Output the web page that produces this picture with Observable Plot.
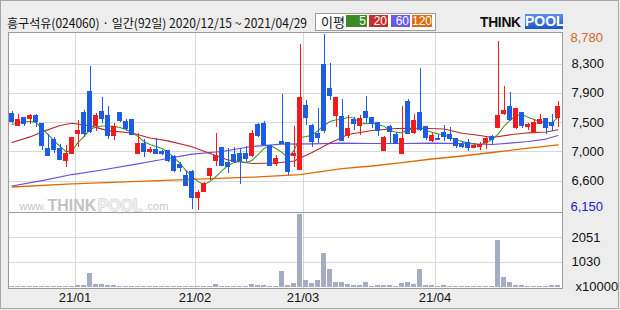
<!DOCTYPE html>
<html><head><meta charset="utf-8">
<script src="https://cdn.jsdelivr.net/npm/d3@7"></script>
<script src="https://cdn.jsdelivr.net/npm/@observablehq/plot@0.6"></script>
<style>
html,body{margin:0;padding:0;background:#ededed;}
#wrap{position:relative;width:620px;height:310px;overflow:hidden;background:#ededed;}
#border{position:absolute;left:0;top:0;width:619px;height:309px;box-sizing:border-box;border:1px solid #a6a6a6;pointer-events:none;}
.abs{position:absolute;}
#title{left:7px;top:14px;font-family:"Noto Sans CJK KR",sans-serif;font-size:12.5px;line-height:17px;white-space:nowrap;color:#111;transform-origin:left top;}
#legend{left:315px;top:13px;width:121px;height:18px;box-sizing:border-box;border:1px solid #9c9c9c;background:#fff;}
#legendLabel{left:321px;top:13px;font-family:"Noto Sans CJK KR",sans-serif;font-size:13px;line-height:18px;color:#111;}
.lg{top:15px;height:12px;color:#fff;font-family:"Liberation Sans",Arial,sans-serif;font-size:12px;line-height:12px;text-align:right;box-sizing:border-box;padding-right:1px;}
#logoThink{left:480px;top:14px;font-family:"Liberation Sans",Arial,sans-serif;font-weight:bold;font-size:15px;line-height:15px;color:#111;letter-spacing:-0.3px;transform-origin:left top;transform:scaleX(0.92);}
#logoPool{left:525px;top:14px;width:38px;height:15px;background:linear-gradient(#5b8fe8,#1f55c4);color:#fff;font-family:"Liberation Sans",Arial,sans-serif;font-weight:bold;font-size:14px;line-height:15px;text-align:center;}
svg{position:absolute;left:0;}
</style></head>
<body>
<div id="wrap">
  <div id="title" class="abs"></div>
  <div id="legend" class="abs"></div>
  <div id="legendLabel" class="abs"></div>
  <div id="logoThink" class="abs">THINK</div>
  <div id="logoPool" class="abs">POOL</div>
  <div id="border"></div>
</div>
<script>
// ---------------- data ----------------
const titleText = "흥구석유(024060) · 일간(92일) 2020/12/15 ~ 2021/04/29";
const legendLabel = "이평";
const maPeriods = ["5", "20", "60", "120"];

const opens  = [7585,7410,7525,7515,7555,7445,7060,7200,7060,6895,6990,7290,7605,7920,7415,7620,7555,7260,7605,7465,
                7495,6995,7135,7020,7055,7015,7030,6945,6830,6670,6715,6330,6420,6660,6895,7085,6850,6970,6995,6990,
                6970,7420,7445,7115,6850,7170,7150,6960,6750,7705,7405,7295,8320,7960,7570,7540,7270,7495,7410,7620,
                7530,7460,7045,7395,7270,6995,7770,7305,7610,7390,7195,7215,7300,7280,7210,7130,7160,7080,7100,7160,
                7240,7390,7600,7690,7380,7610,7400,7310,7440,7510,7455,7530];
const highs  = [7635,7585,7545,7585,7585,7450,7290,7240,7130,7120,7230,7495,7645,8305,7600,7845,7700,7455,7620,7515,
                7500,7305,7205,7090,7220,7045,7030,6970,6870,6745,6745,6445,6560,6780,7305,7085,7075,7085,7070,7100,
                7340,7455,7480,7125,6970,7885,7170,7405,8630,7790,7430,7670,8780,8345,7830,7810,7570,7545,7570,7855,
                7530,7460,7260,7420,7320,7710,7810,7585,8270,7390,7295,7290,7420,7390,7230,7180,7210,7145,7160,7245,
                7270,8680,8005,7915,7660,7610,7455,7510,7585,7530,7585,7780];
const lows   = [7445,7410,7410,7440,7390,7045,6960,6995,6895,6795,6990,7095,7245,7305,7335,7450,7210,7200,7465,7330,
                7270,6995,6940,7000,6990,6970,6865,6710,6710,6510,6165,6150,6420,6590,6805,6820,6695,6845,6540,6870,
                6945,7245,7110,6805,6805,7140,6675,6795,6745,7415,7095,7145,7305,7795,7395,7195,7220,7345,7270,7445,
                7370,7260,7030,7145,7145,6995,7295,7280,7330,7195,7160,7200,7180,7180,7080,7080,7035,7080,7045,7060,
                7130,7390,7570,7480,7360,7380,7345,7310,7440,7290,7335,7395];
const closes = [7470,7495,7445,7555,7480,7110,6960,7050,6910,6985,7230,7335,7295,7320,7555,7515,7260,7390,7490,7370,
                7280,7135,7020,7050,6995,6995,6890,6745,6780,6510,6330,6405,6545,6770,6965,6820,6805,6870,6895,6920,
                7295,7270,7135,6820,6920,7145,6720,6990,7825,7535,7170,7230,7345,7870,7830,7195,7360,7440,7520,7530,
                7440,7345,7230,7330,7145,7210,7295,7485,7360,7230,7260,7205,7250,7220,7110,7100,7090,7110,7130,7210,
                7200,7555,7640,7510,7660,7410,7430,7450,7495,7380,7410,7690];
// volume, unit x10000 shares
const volumes = [40,35,40,35,40,45,40,35,40,40,45,80,80,580,125,125,80,80,40,35,
                 40,40,35,40,35,40,40,40,35,40,45,40,40,40,125,40,40,45,40,40,
                 125,80,80,40,40,660,70,165,3010,275,165,275,1410,745,180,180,130,80,80,210,
                 40,80,80,80,40,165,205,125,745,80,80,40,80,40,40,40,40,40,40,40,
                 40,1930,420,215,90,90,40,40,40,40,80,80];

// moving averages
const ma5 = [7436,7462,7481,7481,7466,7376,7286,7196,7106,7031,7039,7166,7256,7361,7398,7413,7413,7406,7391,7361,
             7316,7256,7181,7136,7106,7076,7016,6941,6851,6746,6656,6581,6536,6581,6656,6746,6821,6866,6881,6866,
             6896,6986,7076,7121,7076,7016,6941,7046,7241,7256,7271,7346,7421,7481,7506,7511,7545,7530,7461,7446,
             7461,7431,7410,7346,7320,7311,7361,7361,7395,7346,7320,7296,7281,7245,7211,7181,7161,7147,7132,7161,
             7211,7290,7410,7496,7571,7586,7545,7511,7481,7461,7461,7545];
const ma20Idx = [0,3,5,8,10,13,16,20,23,26,30,33,36,40,44,47,50,53,56,60,64,68,72,75,78,80,83,86,89,91];
const ma20Val = [7166,7250,7325,7420,7455,7415,7344,7308,7233,7190,7102,7000,6904,6851,6859,6889,7016,7158,7286,7346,
                 7376,7380,7368,7305,7271,7241,7281,7311,7323,7356];
const ma60Idx = [0,5,10,15,20,25,30,35,40,45,50,55,60,65,70,75,80,83,86,89,91];
const ma60Val = [6514,6596,6686,6754,6832,6911,6993,7031,7106,7141,7146,7158,7151,7151,7158,7151,7136,7158,7181,7218,7271];
const ma120Idx = [0,10,20,30,40,48,55,60,65,70,75,80,85,91];
const ma120Val = [6499,6547,6581,6612,6646,6686,6776,6814,6866,6919,6964,7016,7069,7132];

// axis labels
const monthLabels = ["21/01","21/02","21/03","21/04"];
const monthStart = [11,31,49,71];
const priceTickValues = [8780,8342,7903,7465,7027,6588,6150];
const priceTickLabels = ["8,780","8,300","7,900","7,500","7,000","6,600","6,150"];
const volTickValues = [2051,1030];
const volTickLabels = ["2051","1030"];
const volUnit = "x10000";
const watermark = ["www.","THINK","POOL",".com"];

// ---------------- style ----------------
const UP = "#f01c1c", DOWN = "#1d5de4";
const C5 = "#3c8f22", C20 = "#b8282a", C60 = "#6652dc", C120 = "#e06a00";
const GRID = "#d8d8d8", BORDER = "#9a9a9a";
const FONT = "'Liberation Sans', Arial, sans-serif";

// header
const titleEl = document.getElementById("title");
titleEl.textContent = titleText;
document.getElementById("legendLabel").textContent = legendLabel;
const lgPos = [[346,21,"#3d8b25"],[369,19,"#c4302b"],[391,19,"#6a5ae3"],[412,20,"#df6a10"]];
maPeriods.forEach((p, k) => {
  const d = document.createElement("div");
  d.className = "abs lg";
  d.style.left = lgPos[k][0] + "px"; d.style.width = lgPos[k][1] + "px"; d.style.background = lgPos[k][2];
  d.textContent = p;
  document.getElementById("wrap").appendChild(d);
});
// fit the title to the reference width (7..307 px)
const tw = titleEl.getBoundingClientRect().width;
if (tw > 0) titleEl.style.transform = `scaleX(${Math.min(1, 300 / tw)})`;

const candles = d3.range(opens.length).map(i => ({i, o: opens[i], h: highs[i], l: lows[i], c: closes[i]}));
const col = d => d.c >= d.o ? UP : DOWN;
const rows = (idx, val) => idx.map((i, k) => ({i, v: val[k]}));
const ma5Rows = ma5.map((v, i) => ({i, v}));
const X = {type: "linear", domain: [-0.5, 91.5], range: [8.5, 560.5], axis: null};
const HW = 0.42;

const price = Plot.plot({
  width: 620, height: 212,
  marginLeft: 8, marginRight: 58, marginTop: 32, marginBottom: 0,
  x: X,
  y: {domain: [6150, 8780], range: [209.8, 34.3], axis: null},
  color: {type: "identity"},
  style: {background: "transparent", overflow: "visible", fontFamily: FONT},
  marks: [
    Plot.frame({fill: "white", stroke: null}),
    Plot.ruleY(priceTickValues.slice(1, -1), {stroke: GRID, shapeRendering: "crispEdges"}),
    Plot.ruleX(monthStart, {x: d => d - 0.5, stroke: GRID, shapeRendering: "crispEdges"}),
    Plot.text([watermark[0]], {frameAnchor: "bottom-left", dx: 11, dy: -3, lineAnchor: "bottom", textAnchor: "start", fill: "#c6c6c6", fontSize: 11, fontFamily: FONT}),
    Plot.text([watermark[1]], {frameAnchor: "bottom-left", dx: 39, dy: -2, lineAnchor: "bottom", textAnchor: "start", fill: "#c2c2c2", fontSize: 16, fontWeight: "bold", fontFamily: FONT}),
    Plot.text([watermark[2]], {frameAnchor: "bottom-left", dx: 89, dy: -2, lineAnchor: "bottom", textAnchor: "start", fill: "#eeeeee", stroke: "#c2c2c2", strokeWidth: 0.8, fontSize: 16, fontWeight: "bold", fontFamily: FONT}),
    Plot.text([watermark[3]], {frameAnchor: "bottom-left", dx: 136, dy: -3, lineAnchor: "bottom", textAnchor: "start", fill: "#c6c6c6", fontSize: 11, fontFamily: FONT}),
    Plot.line(rows(ma120Idx, ma120Val), {x: "i", y: "v", stroke: C120, strokeWidth: 1.3}),
    Plot.line(rows(ma60Idx, ma60Val), {x: "i", y: "v", stroke: C60, strokeWidth: 1.2}),
    Plot.line(rows(ma20Idx, ma20Val), {x: "i", y: "v", stroke: C20, strokeWidth: 1.1}),
    Plot.line(ma5Rows, {x: "i", y: "v", stroke: C5, strokeWidth: 1.1, strokeDasharray: "1.5,1"}),
    Plot.ruleX(candles, {x: "i", y1: "l", y2: "h", stroke: col, strokeWidth: 1, shapeRendering: "crispEdges"}),
    Plot.rect(candles, {x1: d => d.i - HW, x2: d => d.i + HW, y1: d => Math.min(d.o, d.c), y2: d => Math.max(d.o, d.c),
      fill: col, insetTop: -0.6, insetBottom: -0.6, shapeRendering: "crispEdges"}),
    Plot.frame({stroke: BORDER, shapeRendering: "crispEdges"}),
    Plot.text(priceTickValues.slice(0, 1), {y: d => d, text: (d, k) => priceTickLabels[0], frameAnchor: "right", dx: 8, dy: 3, textAnchor: "start", fill: "#d2691e", fontSize: 13, fontFamily: FONT}),
    Plot.text(priceTickValues.slice(1, -1), {y: d => d, text: (d, k) => priceTickLabels[k + 1], frameAnchor: "right", dx: 9, textAnchor: "start", fill: "#111", fontSize: 13, fontFamily: FONT}),
    Plot.text(priceTickValues.slice(-1), {y: d => d, text: (d, k) => priceTickLabels[priceTickLabels.length - 1], frameAnchor: "right", dx: 8, dy: -3, textAnchor: "start", fill: "#1a1acc", fontSize: 13, fontFamily: FONT})
  ]
});
price.style.top = "0px";

const volRows = volumes.map((v, i) => ({i, v}));
const vol = Plot.plot({
  width: 620, height: 99,
  marginLeft: 8, marginRight: 58, marginTop: 1, marginBottom: 22,
  x: X,
  y: {domain: [0, 3080], range: [75.7, 1.3], axis: null},
  style: {background: "transparent", overflow: "visible", fontFamily: FONT},
  marks: [
    Plot.frame({fill: "white", stroke: null}),
    Plot.ruleY(volTickValues, {stroke: GRID, shapeRendering: "crispEdges"}),
    Plot.ruleX(monthStart, {x: d => d - 0.5, stroke: GRID, shapeRendering: "crispEdges"}),
    Plot.rect(volRows, {x1: d => d.i - HW, x2: d => d.i + HW, y1: () => 0, y2: "v", fill: "#a3abc5", shapeRendering: "crispEdges"}),
    Plot.frame({stroke: BORDER, shapeRendering: "crispEdges"}),
    Plot.text(volTickValues, {y: d => d, text: (d, k) => volTickLabels[k], frameAnchor: "right", dx: 9, textAnchor: "start", fill: "#111", fontSize: 13, fontFamily: FONT}),
    Plot.text([volUnit], {y: () => 0, text: d => d, frameAnchor: "right", dx: 13, textAnchor: "start", fill: "#111", fontSize: 13, fontFamily: FONT}),
    Plot.text(monthStart, {x: d => d - 0.5, text: (d, k) => monthLabels[k], frameAnchor: "bottom", dy: 13, fill: "#111", fontSize: 13, fontFamily: FONT})
  ]
});
vol.style.top = "211px";

const wrap = document.getElementById("wrap");
wrap.insertBefore(vol, document.getElementById("border"));
wrap.insertBefore(price, vol);
</script>
</body></html>
